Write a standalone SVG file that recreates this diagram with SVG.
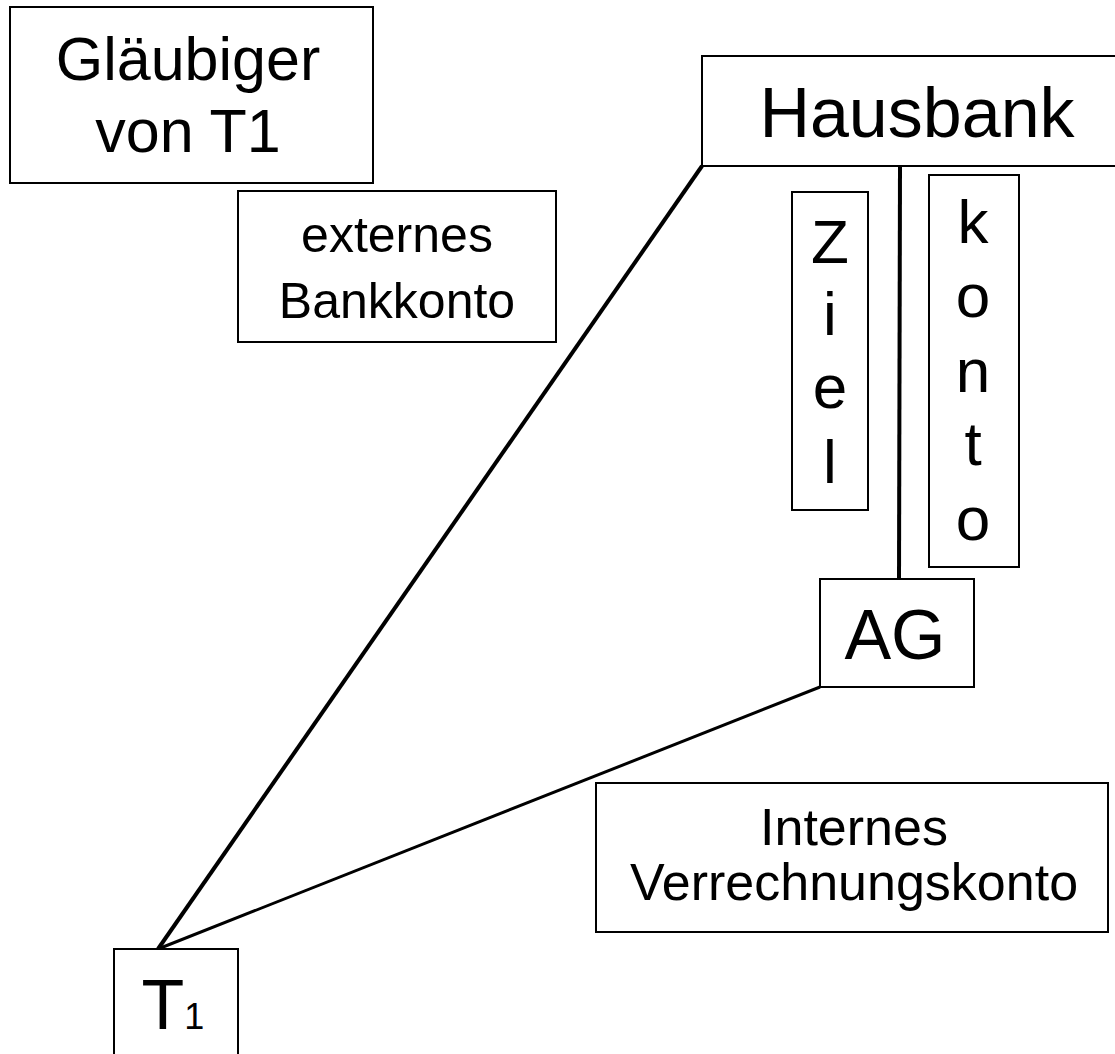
<svg xmlns="http://www.w3.org/2000/svg" width="1115" height="1054" viewBox="0 0 1115 1054">
<style>
.box{fill:#fff;stroke:#000;stroke-width:2}
text{font-family:"Liberation Sans",Arial,sans-serif;fill:#000;text-anchor:middle}
.ln{stroke:#000;fill:none}
</style>
<rect width="1115" height="1054" fill="#fff"/>
<g id="connectors">
<line class="ln" x1="702" y1="166" x2="158" y2="949" stroke-width="4"/>
<line class="ln" x1="820" y1="687" x2="158" y2="949" stroke-width="3"/>
<line class="ln" x1="900" y1="166" x2="899" y2="579" stroke-width="4"/>
</g>
<g id="glaeubiger">
<rect class="box" x="10" y="7" width="363" height="176"/>
<text x="188" y="80" font-size="61">Gläubiger</text>
<text x="188" y="152" font-size="61">von T1</text>
</g>
<g id="externes">
<rect class="box" x="238" y="191" width="318" height="151"/>
<text x="397" y="252" font-size="50">externes</text>
<text x="397" y="318" font-size="50">Bankkonto</text>
</g>
<g id="hausbank">
<rect class="box" x="702" y="56" width="420" height="110"/>
<text x="917" y="137" font-size="70">Hausbank</text>
</g>
<g id="ziel">
<rect class="box" x="792" y="192" width="76" height="318"/>
<text x="830" y="263" font-size="62">Z</text>
<text x="830" y="335" font-size="62">i</text>
<text x="830" y="408" font-size="62">e</text>
<text x="830" y="483" font-size="62">l</text>
</g>
<g id="konto">
<rect class="box" x="929" y="175" width="90" height="392"/>
<text x="973" y="243" font-size="62">k</text>
<text x="973" y="317" font-size="62">o</text>
<text x="973" y="392" font-size="62">n</text>
<text x="973" y="465" font-size="62">t</text>
<text x="973" y="540" font-size="62">o</text>
</g>
<g id="ag">
<rect class="box" x="820" y="579" width="154" height="108"/>
<text x="895" y="659" font-size="70">AG</text>
</g>
<g id="internes">
<rect class="box" x="596" y="783" width="512" height="149"/>
<text x="854" y="845" font-size="52">Internes</text>
<text x="854" y="900" font-size="52">Verrechnungskonto</text>
</g>
<g id="t1">
<rect class="box" x="114" y="949" width="124" height="110"/>
<text x="173" y="1029" font-size="70">T<tspan font-size="36">1</tspan></text>
</g>
</svg>
